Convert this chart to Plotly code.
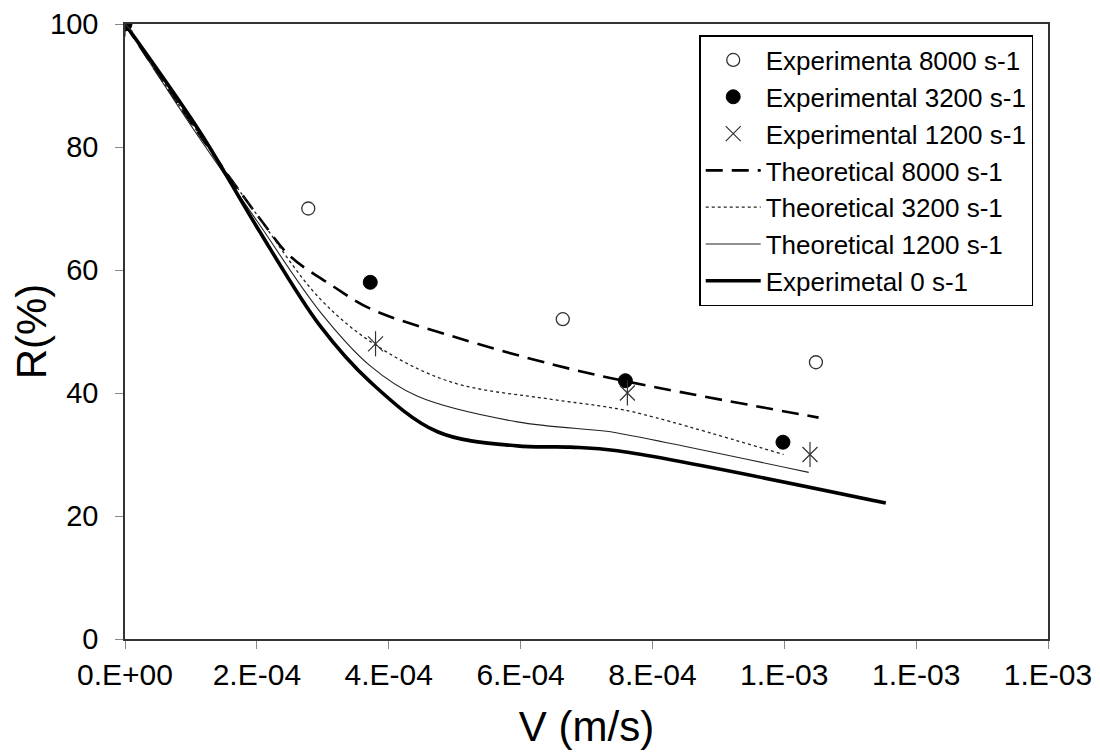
import plotly.graph_objects as go

# ---- data ----
x_tick_vals = [0, 2e-4, 4e-4, 6e-4, 8e-4, 1.0e-3, 1.2e-3, 1.4e-3]
x_tick_text = ["0.E+00", "2.E-04", "4.E-04", "6.E-04", "8.E-04", "1.E-03", "1.E-03", "1.E-03"]
y_tick_vals = [0, 20, 40, 60, 80, 100]

exp8000_x = [0, 2.78e-4, 6.64e-4, 1.048e-3]
exp8000_y = [100, 70, 52, 45]

exp3200_x = [0, 3.72e-4, 7.59e-4, 9.98e-4]
exp3200_y = [100, 58, 42, 32]

exp1200_x = [0, 3.80e-4, 7.62e-4, 1.039e-3]
exp1200_y = [100, 48, 40, 30]

th8000_x = [0, 1.0e-4, 2.05e-4, 2.5e-4, 3.15e-4, 3.72e-4, 4.94e-4, 6.5e-4, 7.6e-4, 8.75e-4, 1.052e-3]
th8000_y = [100, 84, 68.3, 62.3, 57.4, 53.7, 49.3, 44.6, 41.9, 39.5, 36]

th3200_x = [0, 1.0e-4, 2.0e-4, 2.96e-4, 3.83e-4, 4.94e-4, 6.45e-4, 7.2e-4, 7.72e-4, 9.99e-4]
th3200_y = [100, 84, 69, 55.3, 47.6, 41.8, 39, 37.9, 36.9, 30]

th1200_x = [0, 1.0e-4, 2.0e-4, 2.96e-4, 3.72e-4, 4.43e-4, 5.95e-4, 7.2e-4, 7.47e-4, 1.037e-3]
th1200_y = [100, 83.5, 68, 53.2, 44.4, 39.5, 35.3, 33.9, 33.5, 27.1]

exp0_x = [0, 1.14e-4, 2.0e-4, 2.96e-4, 3.72e-4, 4.74e-4, 5.95e-4, 6.76e-4, 7.47e-4, 1.154e-3]
exp0_y = [100, 82.4, 67, 50.9, 41.8, 33.7, 31.4, 31.2, 30.6, 22.1]

FONT = "Liberation Sans, Arial, sans-serif"

fig = go.Figure()

# lines (drawn first so markers sit on top)
fig.add_trace(go.Scatter(x=th8000_x, y=th8000_y, mode="lines", name="Theoretical 8000 s-1",
                         line=dict(color="black", width=2.6, dash="17px,9px", shape="spline"),
                         legendrank=4))
fig.add_trace(go.Scatter(x=th3200_x, y=th3200_y, mode="lines", name="Theoretical 3200 s-1",
                         line=dict(color="#222", width=1.3, dash="3px,3px", shape="spline"),
                         legendrank=5))
fig.add_trace(go.Scatter(x=th1200_x, y=th1200_y, mode="lines", name="Theoretical 1200 s-1",
                         line=dict(color="#222", width=1.1, shape="spline"),
                         legendrank=6))
fig.add_trace(go.Scatter(x=exp0_x, y=exp0_y, mode="lines", name="Experimetal 0 s-1",
                         line=dict(color="black", width=3.6, shape="spline"),
                         legendrank=7))

# markers
fig.add_trace(go.Scatter(x=exp8000_x, y=exp8000_y, mode="markers", name="Experimenta 8000 s-1",
                         marker=dict(symbol="circle", size=13, color="white",
                                     line=dict(color="#333", width=1.3)),
                         legendrank=1))
fig.add_trace(go.Scatter(x=exp3200_x, y=exp3200_y, mode="markers", name="Experimental 3200 s-1",
                         marker=dict(symbol="circle", size=14, color="black",
                                     line=dict(color="black", width=1)),
                         legendrank=2))
fig.add_trace(go.Scatter(x=exp1200_x, y=exp1200_y, mode="markers", name="Experimental 1200 s-1",
                         legendgroup="e1200",
                         marker=dict(symbol="x-thin-open", size=15, color="#333",
                                     line=dict(color="#333", width=1.2)),
                         legendrank=3))
fig.add_trace(go.Scatter(x=exp1200_x, y=exp1200_y, mode="markers", name="Experimental 1200 s-1",
                         legendgroup="e1200", showlegend=False,
                         marker=dict(symbol="line-ns-open", size=18, color="#333",
                                     line=dict(color="#333", width=1.2))))

# the page body has an 8px margin; sizes/margins compensate so the plot area
# lands at x 125..1048, y 24..639 of the window
fig.update_layout(
    width=1092, height=746,
    margin=dict(l=117, r=52, t=16, b=115),
    paper_bgcolor="white", plot_bgcolor="white",
    font=dict(family=FONT, color="black"),
    showlegend=True,
    legend=dict(x=0.984, y=0.982, xanchor="right", yanchor="top",
                bordercolor="black", borderwidth=1.5, bgcolor="white",
                font=dict(size=26, family=FONT, color="black"),
                tracegroupgap=0, itemwidth=55),
    xaxis=dict(range=[0, 1.4e-3], tickmode="array", tickvals=x_tick_vals, ticktext=x_tick_text,
               automargin=False,
               showgrid=False, zeroline=False, showline=True, linecolor="#333", linewidth=1.5,
               mirror=True, ticks="outside", ticklen=8, tickcolor="#888", tickwidth=1,
               tickfont=dict(size=30, family=FONT, color="black"),
               title=dict(text="V (m/s)", font=dict(size=42, family=FONT, color="black"), standoff=22)),
    yaxis=dict(range=[0, 100], tickmode="array", tickvals=y_tick_vals,
               automargin=False,
               showgrid=False, zeroline=False, showline=True, linecolor="#333", linewidth=1.5,
               mirror=True, ticks="outside", ticklen=8, tickcolor="#888", tickwidth=1,
               ticklabelstandoff=11,
               tickfont=dict(size=29, family=FONT, color="black"),
               title=dict(text="R(%)", font=dict(size=42, family=FONT, color="black"), standoff=0)),
)

fig.write_html("out.html")
